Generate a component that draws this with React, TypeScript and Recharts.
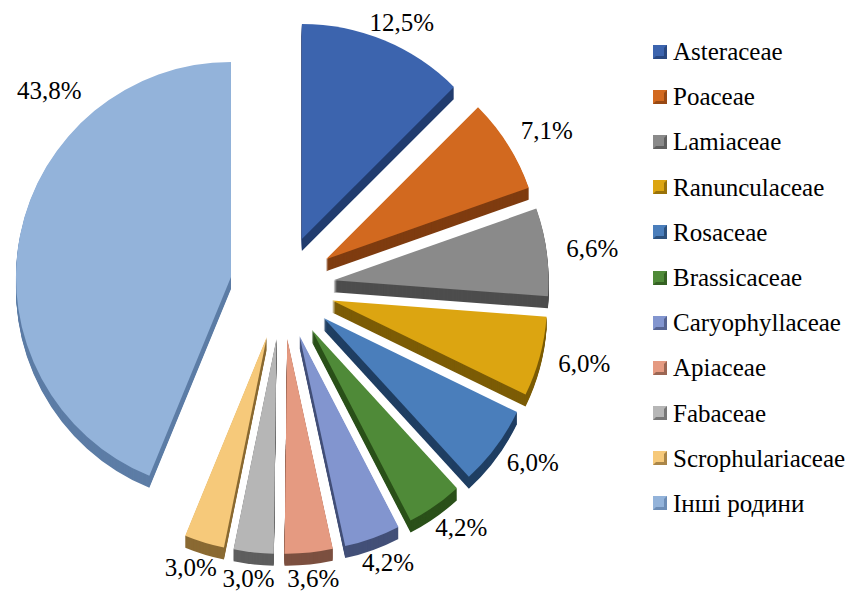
import { PieChart, Pie, Cell, Legend, Sector } from 'recharts';

const families = [
  'Asteraceae',
  'Poaceae',
  'Lamiaceae',
  'Ranunculaceae',
  'Rosaceae',
  'Brassicaceae',
  'Caryophyllaceae',
  'Apiaceae',
  'Fabaceae',
  'Scrophulariaceae',
  'Інші родини',
];
const shares = [12.5, 7.1, 6.6, 6.0, 6.0, 4.2, 4.2, 3.6, 3.0, 3.0, 43.8];
const topColors = ['#3C64AE', '#D2691F', '#8A8A8A', '#DCA511', '#4A7EBB', '#4F8A38', '#8295CF', '#E59A81', '#B6B6B6', '#F6C97A', '#93B3DA'];
const sideColors = ['#213C6E', '#7F3C10', '#4D4D4D', '#7C5C06', '#203F63', '#2A5019', '#435078', '#7C5040', '#5E5E5E', '#8A6A33', '#5D7DA6'];

const data = families.map((name, i) => ({ name, value: shares[i] }));

const RADIAN = Math.PI / 180;
const EXPLODE = 52; // how far each slice is pulled out
const DEPTH = 12; // thickness of the 3d edge
const FONT = 'Liberation Serif, DejaVu Serif, Times New Roman, Times, serif';

const formatPct = (v: number) => v.toFixed(1).replace('.', ',') + '%';

const ExplodedSlice = (props: any) => {
  const { cx, cy, midAngle, innerRadius, outerRadius, startAngle, endAngle } = props;
  const name = props.payload?.name ?? props.name;
  const idx = families.indexOf(name);
  const dx = EXPLODE * Math.cos(-midAngle * RADIAN);
  const dy = EXPLODE * Math.sin(-midAngle * RADIAN);
  const geo = { innerRadius, outerRadius, startAngle, endAngle };
  const layers = [];
  for (let d = DEPTH; d > 0; d--) {
    layers.push(
      <Sector key={d} {...geo} cx={cx + dx} cy={cy + dy + d} fill={sideColors[idx]} stroke="none" />
    );
  }
  return (
    <g>
      {layers}
      <Sector {...geo} cx={cx + dx} cy={cy + dy} fill={topColors[idx]} stroke="none" />
    </g>
  );
};

const renderLabel = (props: any) => {
  const { cx, cy, midAngle, outerRadius, value, percent } = props;
  // the big slice gets its label moved to the upper left, like the original
  const angle = percent > 0.4 ? 138 : midAngle;
  const cos = Math.cos(-angle * RADIAN);
  const sin = Math.sin(-angle * RADIAN);
  const r = outerRadius + EXPLODE;
  // put the text box just outside the slice edge
  const x = cx + r * cos + cos * 46;
  const y = Math.max(22, cy + r * sin + sin * 26);
  return (
    <text x={x} y={y} textAnchor="middle" dominantBaseline="central" fill="#000" fontSize={25} style={{ fontFamily: FONT }}>
      {formatPct(value)}
    </text>
  );
};

const LegendBox = () => (
  <div style={{ fontFamily: FONT, fontSize: 25, color: '#000' }}>
    {families.map((name, i) => (
      <div key={name} style={{ height: 45.2, display: 'flex', alignItems: 'center' }}>
        <svg width={14} height={14} style={{ marginRight: 6 }}>
          <rect x={0} y={0} width={14} height={14} fill={topColors[i]} />
          <polygon points="14,0 14,14 0,14" fill={sideColors[i]} opacity={0.7} />
          <rect x={3} y={3} width={8} height={8} fill={topColors[i]} />
        </svg>
        <span style={{ lineHeight: 1 }}>{name}</span>
      </div>
    ))}
  </div>
);

export default function App() {
  return (
    <div style={{ position: 'absolute', left: 0, top: 0, width: 858, height: 592, background: '#fff', fontFamily: FONT }}>
      <PieChart width={858} height={592} margin={{ top: 0, right: 0, bottom: 0, left: 0 }} style={{ fontFamily: FONT }}>
        <Pie
          data={data}
          dataKey="value"
          nameKey="name"
          cx={282}
          cy={287}
          outerRadius={215}
          startAngle={90}
          endAngle={-270}
          stroke="none"
          shape={ExplodedSlice}
          label={renderLabel}
          labelLine={false}
          isAnimationActive={false}
        >
          {data.map((d, i) => (
            <Cell key={d.name} fill={topColors[i]} />
          ))}
        </Pie>
        <Legend
          layout="vertical"
          verticalAlign="top"
          align="right"
          wrapperStyle={{ top: 29, left: 653, width: 205 }}
          content={LegendBox}
        />
      </PieChart>
    </div>
  );
}
